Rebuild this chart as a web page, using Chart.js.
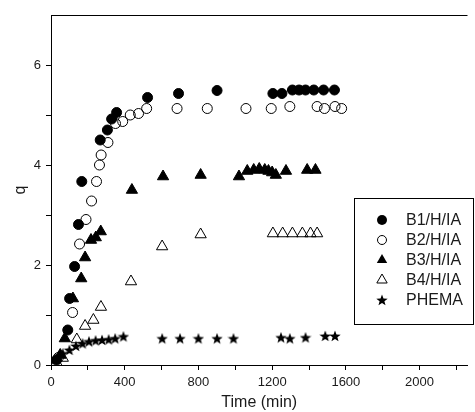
<!DOCTYPE html>
<html lang="en">
<head>
  <meta charset="UTF-8">
  <title>q vs Time</title>
  <script src="https://cdn.jsdelivr.net/npm/chart.js"></script>
  <style>
    * { margin: 0; padding: 0; }
    body { background: #fff; }
    #wrap { width: 475px; height: 412px; }
  </style>
</head>
<body>
<div id="wrap">
  <canvas id="chart" width="475" height="412"></canvas>
</div>

<script>
  // data
  const b1Time = [30, 91, 101, 128, 149, 167, 267, 306, 329, 356, 524, 692, 901, 1204, 1253, 1310, 1346, 1381, 1426, 1479, 1538];
  const b1Q    = [0.1, 0.7, 1.33, 1.97, 2.81, 3.67, 4.5, 4.7, 4.92, 5.05, 5.35, 5.43, 5.49, 5.43, 5.43, 5.5, 5.5, 5.5, 5.5, 5.5, 5.5];

  const b2Time = [40, 117, 155, 190, 220, 247, 263, 272, 309, 350, 389, 430, 475, 519, 684, 848, 1058, 1195, 1296, 1444, 1484, 1541, 1577];
  const b2Q    = [0.15, 1.05, 2.42, 2.91, 3.28, 3.67, 4.0, 4.2, 4.45, 4.83, 4.87, 5.0, 5.03, 5.13, 5.13, 5.13, 5.13, 5.13, 5.17, 5.17, 5.13, 5.17, 5.13];

  const b3Time = [50, 75, 119, 164, 185, 217, 243, 270, 439, 608, 812, 1020, 1065, 1100, 1130, 1160, 1180, 1200, 1220, 1275, 1390, 1435];
  const b3Q    = [0.2, 0.53, 1.33, 1.73, 2.15, 2.5, 2.55, 2.67, 3.5, 3.77, 3.8, 3.77, 3.88, 3.9, 3.92, 3.9, 3.88, 3.85, 3.8, 3.88, 3.9, 3.9];

  const b4Time = [30, 64, 140, 185, 230, 271, 434, 603, 812, 1204, 1257, 1310, 1364, 1408, 1444];
  const b4Q    = [0.05, 0.14, 0.51, 0.78, 0.9, 1.16, 1.67, 2.37, 2.61, 2.63, 2.63, 2.63, 2.63, 2.63, 2.63];

  const phemaTime = [28, 64, 100, 135, 171, 206, 242, 277, 313, 348, 393, 603, 700, 800, 901, 990, 1248, 1296, 1381, 1488, 1541];
  const phemaQ    = [0.13, 0.23, 0.3, 0.38, 0.43, 0.47, 0.49, 0.5, 0.51, 0.53, 0.57, 0.53, 0.53, 0.53, 0.53, 0.53, 0.55, 0.53, 0.55, 0.58, 0.58];

  const seriesNames = ['B1/H/IA', 'B2/H/IA', 'B3/H/IA', 'B4/H/IA', 'PHEMA'];
  const xLabelTicks = [0, 400, 800, 1200, 1600, 2000];
  const yLabelTicks = [0, 2, 4, 6];

  const FONT = 'Liberation Sans, Arial, sans-serif';

  // filled five point star as a point image
  function makeStar(size) {
    const c = document.createElement('canvas');
    c.width = size; c.height = size;
    const g = c.getContext('2d');
    const cx = size / 2, cy = size / 2 + 0.5;
    const ro = size / 2, ri = ro * 0.42;
    g.beginPath();
    for (let i = 0; i < 10; i++) {
      const r = i % 2 === 0 ? ro : ri;
      const a = -Math.PI / 2 + i * Math.PI / 5;
      const px = cx + r * Math.cos(a), py = cy + r * Math.sin(a);
      if (i === 0) g.moveTo(px, py); else g.lineTo(px, py);
    }
    g.closePath();
    g.fillStyle = '#000';
    g.fill();
    return c;
  }
  const star = makeStar(12);

  function pts(xs, ys) {
    return xs.map((x, i) => ({ x: x, y: ys[i] }));
  }

  const datasets = [
    { label: seriesNames[0], data: pts(b1Time, b1Q), pointStyle: 'circle', pointRadius: 5,
      backgroundColor: '#000', borderColor: '#000', borderWidth: 1 },
    { label: seriesNames[1], data: pts(b2Time, b2Q), pointStyle: 'circle', pointRadius: 5,
      backgroundColor: 'rgba(0,0,0,0)', borderColor: '#000', borderWidth: 1 },
    { label: seriesNames[2], data: pts(b3Time, b3Q), pointStyle: 'triangle', pointRadius: 6.5,
      backgroundColor: '#000', borderColor: '#000', borderWidth: 1 },
    { label: seriesNames[3], data: pts(b4Time, b4Q), pointStyle: 'triangle', pointRadius: 6.5,
      backgroundColor: 'rgba(0,0,0,0)', borderColor: '#000', borderWidth: 1 },
    { label: seriesNames[4], data: pts(phemaTime, phemaQ), pointStyle: star, pointRadius: 6,
      backgroundColor: '#000', borderColor: '#000', borderWidth: 0 }
  ];

  // top frame line + custom boxed legend
  const framePlugin = {
    id: 'frameAndLegend',
    afterDraw(chart) {
      const { ctx, chartArea } = chart;
      ctx.save();
      ctx.strokeStyle = '#000';
      ctx.lineWidth = 1;
      ctx.beginPath();
      ctx.moveTo(chartArea.left, chartArea.top + 0.5);
      ctx.lineTo(chartArea.right, chartArea.top + 0.5);
      ctx.stroke();

      // legend box
      const bx = 354.5, by = 198.5, bw = 119, bh = 126;
      ctx.fillStyle = '#fff';
      ctx.fillRect(bx, by, bw, bh);
      ctx.strokeRect(bx, by, bw, bh);

      ctx.font = '16px ' + FONT;
      ctx.textBaseline = 'middle';
      ctx.textAlign = 'left';
      const mx = 382, tx = 406;
      chart.data.datasets.forEach((ds, i) => {
        const y = 220 + i * 20;
        ctx.fillStyle = '#000';
        ctx.strokeStyle = '#000';
        ctx.lineWidth = 1;
        if (i === 0 || i === 1) {
          ctx.beginPath();
          ctx.arc(mx, y, i === 0 ? 5 : 4.5, 0, Math.PI * 2);
          if (i === 0) ctx.fill(); else ctx.stroke();
        } else if (i === 2 || i === 3) {
          const r = 6;
          ctx.beginPath();
          ctx.moveTo(mx, y - r);
          ctx.lineTo(mx + r * 0.866, y + r * 0.5);
          ctx.lineTo(mx - r * 0.866, y + r * 0.5);
          ctx.closePath();
          if (i === 2) ctx.fill(); else ctx.stroke();
        } else {
          ctx.drawImage(star, mx - 6, y - 6);
        }
        ctx.fillStyle = '#1a1a1a';
        ctx.fillText(ds.label, tx, y + 1);
      });
      ctx.restore();
    }
  };

  new Chart(document.getElementById('chart').getContext('2d'), {
    type: 'scatter',
    data: { datasets: datasets },
    options: {
      responsive: false,
      animation: false,
      layout: { padding: { top: 15, right: 0, left: 0, bottom: 0 } },
      plugins: {
        legend: { display: false },
        tooltip: { enabled: false }
      },
      scales: {
        x: {
          type: 'linear',
          min: 0,
          max: 2260,
          afterFit: (s) => { s.height = 47; },
          afterBuildTicks: (s) => {
            const t = [];
            for (let v = 0; v <= 2200; v += 200) t.push({ value: v });
            s.ticks = t;
          },
          ticks: {
            autoSkip: false,
            maxRotation: 0,
            padding: 5,
            color: '#1a1a1a',
            font: { family: FONT, size: 13 },
            callback: (v) => xLabelTicks.includes(v) ? String(v) : ''
          },
          grid: { drawOnChartArea: false, tickLength: 5, color: '#000' },
          border: { color: '#000', width: 1 },
          title: {
            display: true,
            text: 'Time (min)',
            color: '#1a1a1a',
            font: { family: FONT, size: 16 },
            padding: { top: 0, bottom: 0 }
          }
        },
        y: {
          type: 'linear',
          min: 0,
          max: 7,
          afterFit: (s) => { s.width = 51; },
          afterBuildTicks: (s) => {
            const t = [];
            for (let v = 0; v <= 6; v += 1) t.push({ value: v });
            s.ticks = t;
          },
          ticks: {
            autoSkip: false,
            padding: 5,
            color: '#1a1a1a',
            font: { family: FONT, size: 13 },
            callback: (v) => yLabelTicks.includes(v) ? String(v) : ''
          },
          grid: { drawOnChartArea: false, tickLength: 5, color: '#000' },
          border: { color: '#000', width: 1 },
          title: {
            display: true,
            text: 'q',
            color: '#1a1a1a',
            font: { family: FONT, size: 16 },
            padding: { top: 11, bottom: 0 }
          }
        }
      }
    },
    plugins: [framePlugin]
  });
</script>
</body>
</html>
